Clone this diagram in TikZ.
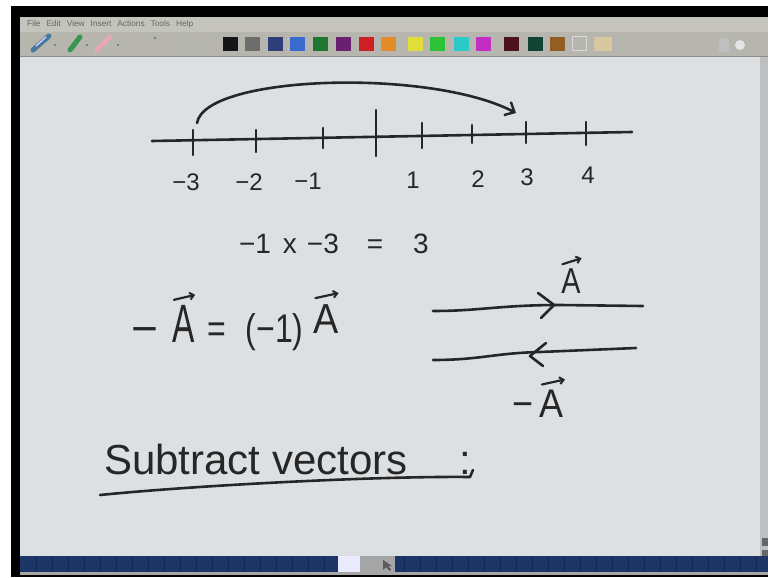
\documentclass[tikz,border=0pt]{standalone}
\usepackage{fontspec}
\setmainfont{Liberation Sans}
\newfontfamily\nAfont[FakeStretch=0.62]{Liberation Sans}
\newfontfamily\nBfont[FakeStretch=0.8]{Liberation Sans}
\newfontfamily\nCfont[FakeStretch=0.9]{Liberation Sans}
\usetikzlibrary{arrows.meta,calc}
\definecolor{inkc}{RGB}{38,38,38}
\definecolor{canvasc}{RGB}{221,224,226}
\definecolor{menuc}{RGB}{196,196,188}
\definecolor{toolc}{RGB}{182,182,174}
\definecolor{taskc}{RGB}{28,54,104}
\newcommand\myfs[1]{\fontsize{#1}{#1}\selectfont}
\tikzset{
  ink/.style={draw=inkc, line width=2.6pt, line cap=round, line join=round},
  thinink/.style={draw=inkc, line width=2.2pt, line cap=round, line join=round},
  lbl/.style={text=inkc, inner sep=0pt, outer sep=0pt},
  barb/.style={-{Straight Barb[length=4pt,width=7pt,line width=2pt]}},
}
\begin{document}
\begin{tikzpicture}[x=1pt,y=-1pt]
\useasboundingbox (0,0) rectangle (768,578);
\fill[white] (0,0) rectangle (768,578);
% frame
\fill[black] (11,6) rectangle (768,577);
\fill[menuc] (20,17) rectangle (768,32);
\fill[toolc] (20,32) rectangle (768,56);
\fill[black!45] (20,56) rectangle (768,57.5);
\fill[canvasc] (20,57.5) rectangle (760,556);
\fill[black!25] (760,57.5) rectangle (768,556);
\fill[black!60] (762,538) rectangle (768,546);
\fill[black!60] (762,550) rectangle (768,556);
\fill[taskc] (20,556) rectangle (768,572);
\foreach \i in {36,52,...,760} \draw[taskc!70!black, line width=0.6pt] (\i,557) -- (\i,571);
\fill[blue!8!white] (338,556) rectangle (360,572);
\fill[black!35] (360,556) rectangle (395,572);
\fill[black!65] (383,560) -- (383,570) -- (386,567) -- (390,571) -- (391,569) -- (388,566) -- (392,566) -- cycle;
\fill[black!35!white] (20,572) rectangle (768,574.5);
% menu
\node[anchor=west, inner sep=0pt, text=black!60, font=\myfs{8.3}] (menu) at (27,24.5) {File\hspace{6pt}Edit\hspace{6pt}View\hspace{6pt}Insert\hspace{6pt}Actions\hspace{6pt}Tools\hspace{6pt}Help};
% pens
\draw[line width=5pt, color={rgb,255:red,70;green,120;blue,155}, line cap=round] (33,50) -- (49,36);
\draw[line width=1.5pt, white!80!blue] (36,46) -- (46,37);
\fill[black!55] (55,45) circle (1.2pt);
\draw[line width=5pt, color={rgb,255:red,55;green,150;blue,80}, line cap=round] (70,50) -- (80,37);
\fill[black!55] (87,45) circle (1.2pt);
\draw[line width=5pt, color={rgb,255:red,228;green,168;blue,182}, line cap=round] (97,50) -- (110,37);
\fill[black!55] (118,45) circle (1.2pt);
\fill[black!50] (155,38) circle (1.3pt);
\draw[black!30, line width=1pt] (176,37) rectangle (184,52);
\draw[black!30, line width=1pt] (203,52) -- (209,37);
% swatches
\foreach \xx/\cc in {230/{rgb,255:red,22;green,22;blue,22},252/{rgb,255:red,110;green,110;blue,110},275/{rgb,255:red,45;green,62;blue,120},297/{rgb,255:red,60;green,105;blue,205},320/{rgb,255:red,32;green,120;blue,48},343/{rgb,255:red,105;green,32;blue,112},366/{rgb,255:red,205;green,32;blue,38},388/{rgb,255:red,225;green,140;blue,40},415/{rgb,255:red,225;green,222;blue,60},437/{rgb,255:red,45;green,195;blue,55},461/{rgb,255:red,45;green,200;blue,200},483/{rgb,255:red,195;green,45;blue,195},511/{rgb,255:red,75;green,18;blue,32},535/{rgb,255:red,18;green,68;blue,52},557/{rgb,255:red,145;green,95;blue,35}}
  \fill[color=\cc] (\xx-7.5,37) rectangle (\xx+7.5,51);
\draw[black!15, line width=1pt] (572,37) rectangle (586,51);
\fill[color={rgb,255:red,215;green,200;blue,160}] (594,37) rectangle (612,51);
\fill[black!10] (740,45) circle (5pt);
\fill[black!25] (719,38) rectangle (729,52);

% ---------- number line ----------
\coordinate (nl0) at (152,141);
\coordinate (nl1) at (632,132);
\draw[ink] (nl0) -- (nl1);
\foreach \xx/\ya/\yb in {193/130/155,256/130/152,323/128/148,376/110/156,422/123/148,472/125/143,526/122/143,586/122/145}
  \draw[ink] (\xx,\ya) -- (\xx,\yb);
\foreach \xx/\yy/\tt in {186/190/−3,249/190/−2,308/189/−1,413/188/1,478/187/2,527/185/3,588/183/4}
  \node[lbl, anchor=base, font=\myfs{24}] at (\xx,\yy) {\tt};
\coordinate (arcS) at (197,123);
\coordinate (arcE) at (516,113);
\draw[ink, -{Straight Barb[length=8pt,width=15pt,line width=2.4pt]}] (arcS) .. controls (205,75) and (430,68) .. (arcE);

% ---------- -1 x -3 = 3 ----------
\node[lbl, anchor=base west, font=\myfs{28}] (eq1) at (239,253) {−1\hspace{12pt}x\hspace{10pt}−3\hspace{28pt}=\hspace{30pt}3};

% ---------- -A = (-1) A ----------
\node[lbl, anchor=center, font=\myfs{46}] (eqm) at (145,336) {−};
\node[lbl, anchor=base, font=\nAfont\myfs{54}] (eqA1) at (184,342) {A};
\draw[thinink, barb] ($(eqA1.north west)+(1,-5)$) -- ($(eqA1.north east)+(0,-10)$);
\node[lbl, anchor=base west, font=\nBfont\myfs{40}] (eqr) at (207,342) {=\hspace{20pt}(−1)};
\node[lbl, anchor=base, font=\nCfont\myfs{42}] (eqA2) at (326,333) {A};
\draw[thinink, barb] ($(eqA2.north west)+(2,-6)$) -- ($(eqA2.north east)+(0,-11)$);

% ---------- vectors ----------
\coordinate (v1s) at (433,311);
\coordinate (v1e) at (643,306);
\draw[ink] (v1s) .. controls (480,311) and (500,305) .. (560,305) -- (v1e);
\draw[ink] (538,293) -- (554,305) -- (541,318);
\node[lbl, anchor=base, font=\nBfont\myfs{36}] (lA) at (571,293) {A};
\draw[thinink, barb] ($(lA.north west)+(1,-4)$) -- ($(lA.north east)+(1,-10)$);

\coordinate (v2s) at (433,360);
\coordinate (v2e) at (636,348);
\draw[ink] (v2s) .. controls (480,360) and (495,353) .. (540,352) -- (v2e);
\draw[ink] (546,343) -- (530,356) -- (543,366);
\node[lbl, anchor=base east, font=\nCfont\myfs{40}] (lmA) at (564,417) {−\hspace{6pt}A};
\draw[thinink, barb] ($(lmA.north east)+(-22,-5)$) -- ($(lmA.north east)+(1,-10)$);

% ---------- Subtract vectors ----------
\node[lbl, anchor=base west, font=\myfs{42}] (sub) at (104,474) {Subtract vectors\hspace{52pt}:};
\coordinate (ulS) at (100,495);
\coordinate (ulE) at (470,477);
\draw[ink] (ulS) .. controls (200,485) and (380,476) .. (ulE) -- (473,470);
\end{tikzpicture}
\end{document}
